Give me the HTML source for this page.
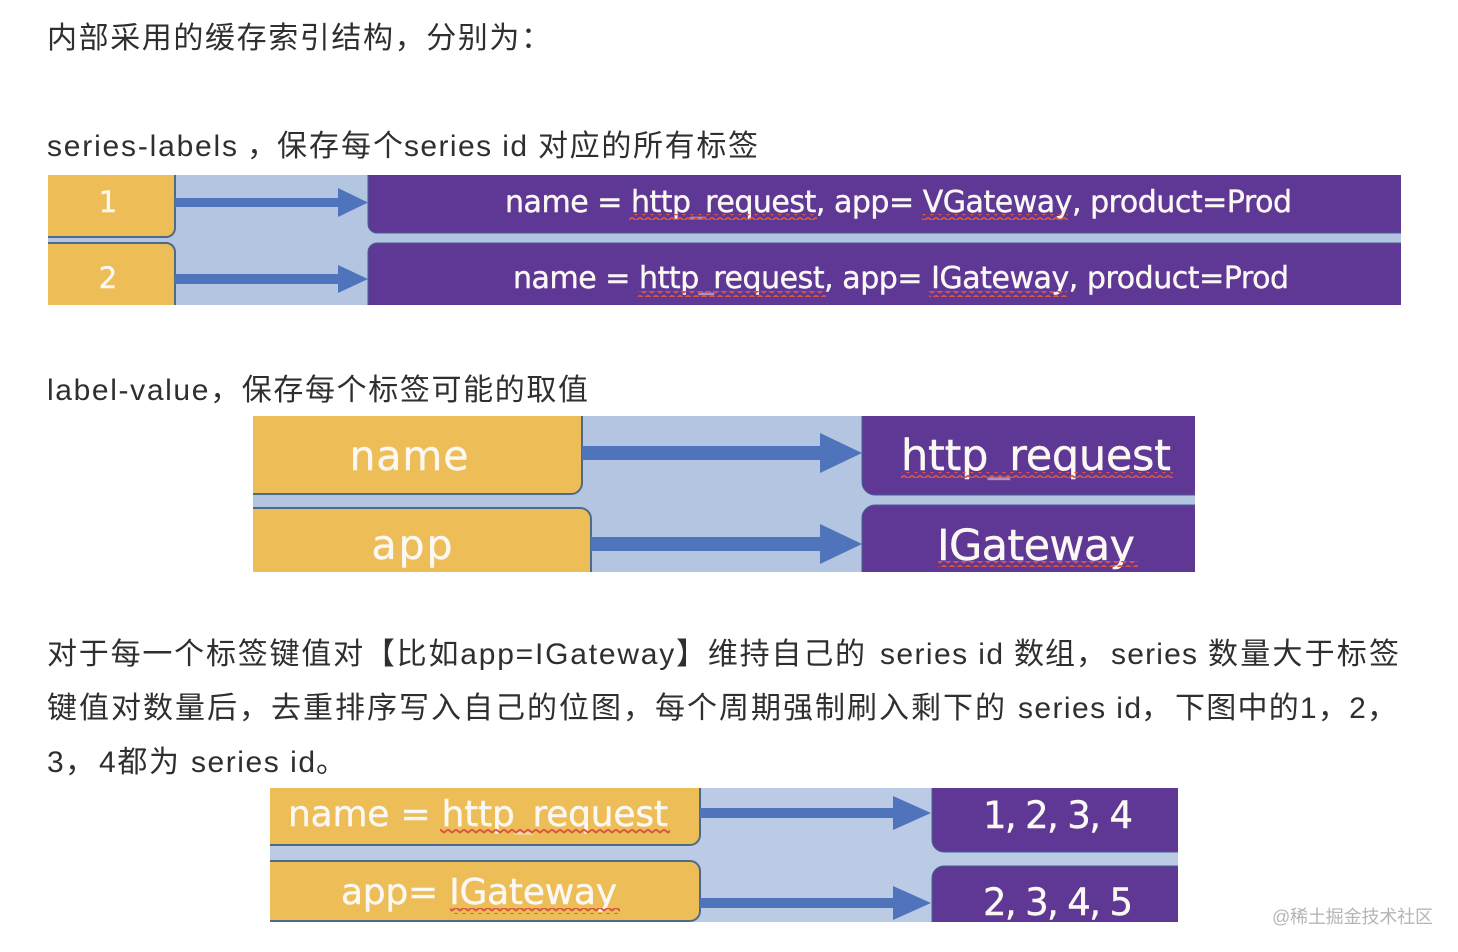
<!DOCTYPE html>
<html><head><meta charset="utf-8">
<style>
html,body{margin:0;padding:0;background:#fff;width:1458px;height:952px;overflow:hidden}
svg{display:block}
.t{font-family:"Liberation Sans","Noto Sans CJK SC",sans-serif;font-size:30px;fill:#2f2f2f}
.w{font-family:"DejaVu Sans","Liberation Sans",sans-serif;fill:#fbf8f4;stroke:#fbf8f4;stroke-width:.4}
.y{fill:#edbd58;stroke:#4f6a88;stroke-width:2}
.p{fill:#5e3894;stroke:#45608f;stroke-width:1}
.a{fill:#4f74bb}
.u{fill-opacity:.45;stroke-opacity:.3}
</style></head><body>
<svg width="1458" height="952" viewBox="0 0 1458 952" xmlns="http://www.w3.org/2000/svg">
<defs>
<pattern id="wv" width="8" height="6" patternUnits="userSpaceOnUse">
<path d="M0 1.500 L4 4.500 L8 1.500" fill="none" stroke="#d9553f" stroke-width="1.900"/>
</pattern>
<clipPath id="c1"><rect x="48" y="175" width="1353" height="130"/></clipPath>
<clipPath id="c2"><rect x="253" y="416" width="942" height="156"/></clipPath>
<clipPath id="c3"><rect x="270" y="788" width="908" height="134"/></clipPath>
</defs>

<text class="t" x="47" y="48" textLength="504" lengthAdjust="spacing">内部采用的缓存索引结构，分别为：</text>

<text class="t" x="47" y="156" textLength="190" lengthAdjust="spacing">series-labels</text>
<text class="t" x="247" y="156">，</text>
<text class="t" x="277" y="156" textLength="126" lengthAdjust="spacing">保存每个</text>
<text class="t" x="404" y="156" textLength="123" lengthAdjust="spacing">series id</text>
<text class="t" x="538" y="156" textLength="220" lengthAdjust="spacing">对应的所有标签</text>

<text class="t" x="47" y="400" textLength="541" lengthAdjust="spacing">label-value，保存每个标签可能的取值</text>

<text class="t" x="47" y="664" textLength="818" lengthAdjust="spacing">对于每一个标签键值对【比如app=IGateway】维持自己的</text>
<text class="t" x="880" y="664" textLength="123" lengthAdjust="spacing">series id</text>
<text class="t" x="1014" y="664" textLength="92" lengthAdjust="spacing">数组，</text>
<text class="t" x="1111" y="664" textLength="86" lengthAdjust="spacing">series</text>
<text class="t" x="1208" y="664" textLength="191" lengthAdjust="spacing">数量大于标签</text>

<text class="t" x="47" y="718" textLength="958" lengthAdjust="spacing">键值对数量后，去重排序写入自己的位图，每个周期强制刷入剩下的</text>
<text class="t" x="1018" y="718" textLength="123" lengthAdjust="spacing">series id</text>
<text class="t" x="1141" y="718">，</text>
<text class="t" x="1175" y="718" textLength="222" lengthAdjust="spacing">下图中的1，2，</text>

<text class="t" x="47" y="772" textLength="17" lengthAdjust="spacing">3</text>
<text class="t" x="65" y="772">，</text>
<text class="t" x="99" y="772" textLength="80" lengthAdjust="spacing">4都为</text>
<text class="t" x="191" y="772" textLength="124" lengthAdjust="spacing">series id</text>
<text class="t" x="316" y="772">。</text>

<!-- Diagram 1 -->
<g clip-path="url(#c1)">
<rect x="48" y="175" width="1353" height="130" fill="#b4c5e1"/>
<rect x="20" y="165" width="155" height="72" rx="9" class="y"/>
<rect x="20" y="243" width="155" height="80" rx="9" class="y"/>
<rect x="368" y="165" width="1060" height="68" rx="9" class="p"/>
<rect x="368" y="243" width="1060" height="80" rx="9" class="p"/>
<path class="a" d="M175 198H338V188L368 202.500L338 217V207H175Z"/>
<path class="a" d="M175 274H338V265L368 279L338 293V284H175Z"/>
<text class="w" x="108" y="212" font-size="29" text-anchor="middle">1</text>
<text class="w" x="108" y="288" font-size="29" text-anchor="middle">2</text>
<text class="w" x="505" y="212" font-size="30" textLength="787" lengthAdjust="spacing">name = http<tspan class="u">_</tspan>request, app= VGateway, product=Prod</text>
<text class="w" x="513" y="288" font-size="30" textLength="776" lengthAdjust="spacing">name = http<tspan class="u">_</tspan>request, app= IGateway, product=Prod</text>
<rect x="629" y="214" width="188" height="6" fill="url(#wv)"/>
<rect x="922" y="214" width="146" height="6" fill="url(#wv)"/>
<rect x="638" y="291" width="188" height="6" fill="url(#wv)"/>
<rect x="929" y="291" width="138" height="6" fill="url(#wv)"/>
</g>

<!-- Diagram 2 -->
<g clip-path="url(#c2)">
<rect x="253" y="416" width="942" height="156" fill="#b4c5e1"/>
<rect x="220" y="405" width="362" height="89" rx="11" class="y"/>
<rect x="220" y="508" width="371" height="90" rx="11" class="y"/>
<rect x="862" y="405" width="370" height="90" rx="13" class="p"/>
<rect x="862" y="505" width="370" height="90" rx="13" class="p"/>
<path class="a" d="M582 446H820V433L862 453L820 473V460H582Z"/>
<path class="a" d="M591 537H820V524L862 544L820 564V551H591Z"/>
<text class="w" x="409" y="470" font-size="41" text-anchor="middle" textLength="119" lengthAdjust="spacing">name</text>
<text class="w" x="412" y="559" font-size="41" text-anchor="middle" textLength="81" lengthAdjust="spacing">app</text>
<text class="w" x="901" y="470" font-size="43" textLength="270" lengthAdjust="spacing">http<tspan class="u">_</tspan>request</text>
<text class="w" x="937" y="560" font-size="43" textLength="198" lengthAdjust="spacing">IGateway</text>
<rect x="901" y="472" width="272" height="6" fill="url(#wv)"/>
<rect x="938" y="561" width="200" height="6" fill="url(#wv)"/>
</g>

<!-- Diagram 3 -->
<g clip-path="url(#c3)">
<rect x="270" y="788" width="908" height="134" fill="#bccbe5"/>
<rect x="240" y="778" width="460" height="67" rx="10" class="y"/>
<rect x="240" y="861" width="460" height="60" rx="10" class="y"/>
<rect x="932" y="775" width="280" height="77" rx="12" class="p"/>
<rect x="932" y="866" width="280" height="80" rx="12" class="p"/>
<path class="a" d="M700 808H893V796L931 813L893 830V818H700Z"/>
<path class="a" d="M700 898H893V886L931 903L893 920V908H700Z"/>
<text class="w" x="288" y="826" font-size="36" textLength="380" lengthAdjust="spacing">name = http<tspan class="u">_</tspan>request</text>
<text class="w" x="341" y="904" font-size="36" textLength="276" lengthAdjust="spacing">app= IGateway</text>
<rect x="440" y="828" width="230" height="6" fill="url(#wv)"/>
<rect x="450" y="908" width="170" height="6" fill="url(#wv)"/>
<text class="w" x="983" y="828" font-size="37" textLength="150" lengthAdjust="spacing">1, 2, 3, 4</text>
<text class="w" x="983" y="915" font-size="37" textLength="150" lengthAdjust="spacing">2, 3, 4, 5</text>
</g>

<text x="1272" y="923" font-family="'Liberation Sans','Noto Sans CJK SC',sans-serif" font-size="18" fill="#b5b5b5" textLength="161" lengthAdjust="spacing">@稀土掘金技术社区</text>
</svg>
</body></html>
